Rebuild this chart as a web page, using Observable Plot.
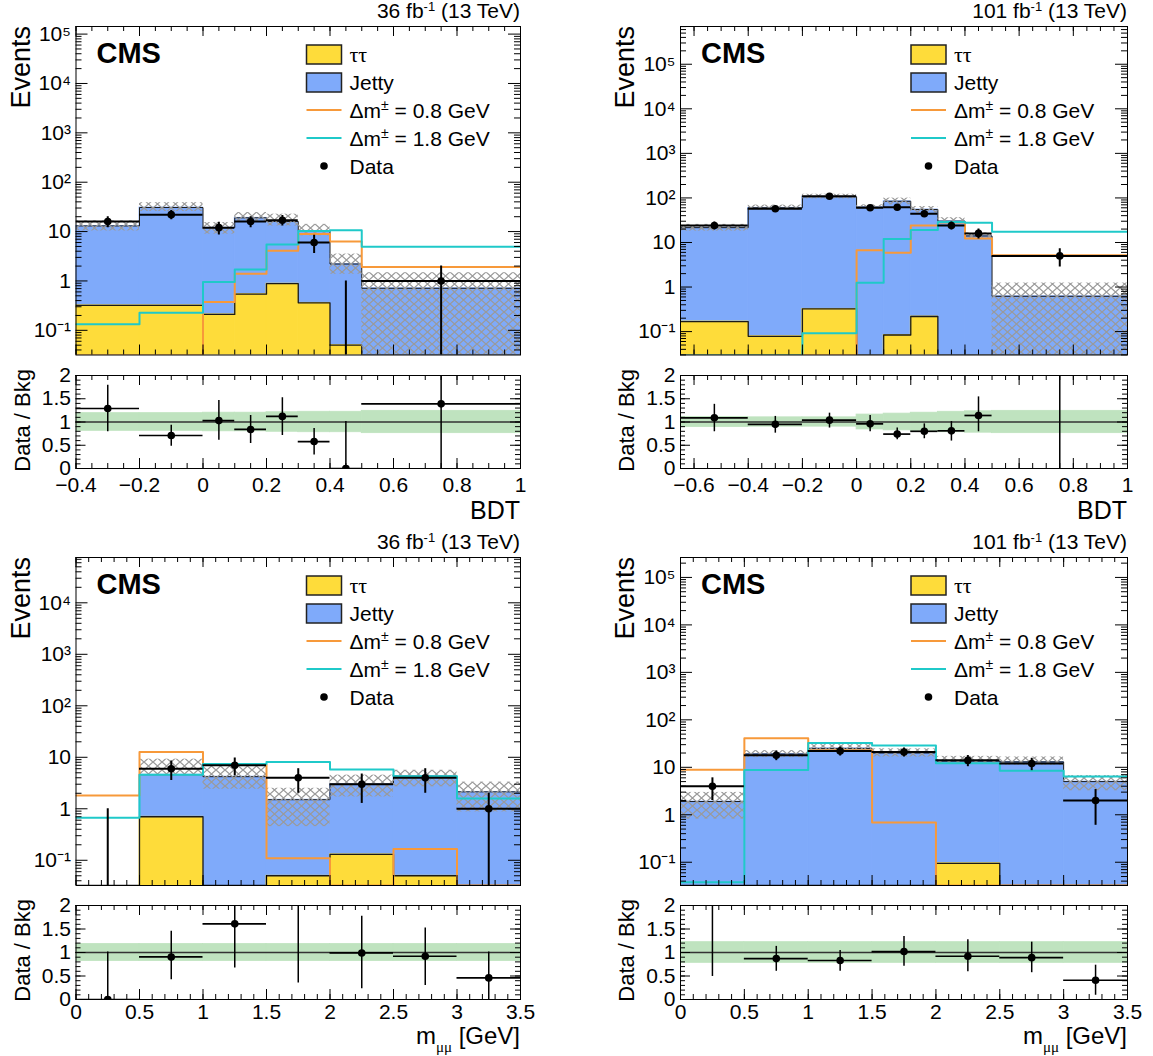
<!DOCTYPE html>
<html>
<head>
<meta charset="utf-8">
<script src="https://cdn.jsdelivr.net/npm/d3@7"></script>
<script src="https://cdn.jsdelivr.net/npm/@observablehq/plot@0.6"></script>
<style>
  html, body { margin: 0; padding: 0; background: #fff; }
  #root { position: relative; width: 1153px; height: 1056px; overflow: hidden; background: #fff;
          font-family: "Liberation Sans", Arial, Helvetica, sans-serif; color: #000; }
</style>
</head>
<body>
<svg width="0" height="0" style="position:absolute;left:0;top:0">
  <defs>
    <pattern id="xhatch" patternUnits="userSpaceOnUse" width="9" height="8">
      <path d="M0,0L9,8M9,0L0,8" stroke="#9a9a9a" stroke-width="1.3" fill="none"/>
    </pattern>
  </defs>
</svg>
<div id="root"></div>
<script>
// ---------------- DATA ----------------
// Panel A: BDT, 36 fb-1
const bdt36Edges    = [-0.4, -0.2, 0, 0.1, 0.2, 0.3, 0.4, 0.5, 1.0];
const bdt36TauTau   = [0.32, 0.32, 0.21, 0.54, 0.88, 0.36, 0.05, 0];
const bdt36Stack    = [13, 30.7, 12, 19, 16, 10.3, 2.2, 0.71];
const bdt36UncLo    = [10.3, 25.5, 8.9, 16, 13, 8.2, 1.37, 0];
const bdt36UncHi    = [16.5, 38.5, 15.2, 24.3, 22.5, 14, 3.5, 1.47];
const bdt36Sig08    = [0, 0, 0.375, 1.4, 4.1, 8.9, 6.3, 1.92];
const bdt36Sig18    = [0.132, 0.228, 0.95, 1.7, 5.5, 10.3, 10.7, 4.9];
const bdt36Data     = [16, 22, 12, 16, 17, 6, 0, 1];
const bdt36DataErr  = [4, 4.7, 3.5, 4, 4.1, 2.4, 1, 1];
const bdt36Ratio    = [1.29, 0.71, 1.03, 0.84, 1.12, 0.58, 0, 1.39];
const bdt36RatioLo  = [0.79, 0.48, 0.61, 0.54, 0.71, 0.29, 0, 0];
const bdt36RatioHi  = [1.79, 0.93, 1.46, 1.14, 1.52, 0.86, 1.01, 2.6];
const bdt36Band     = [0.19, 0.19, 0.2, 0.2, 0.21, 0.22, 0.22, 0.24];

// Panel B: BDT, 101 fb-1
const bdt101Edges   = [-0.65, -0.4, -0.2, 0, 0.1, 0.2, 0.3, 0.4, 0.5, 1.0];
const bdt101TauTau  = [0.168, 0.0785, 0.324, 0, 0.084, 0.218, 0, 0, 0];
const bdt101Stack   = [21.5, 60, 106, 62, 84, 55, 30, 14, 0.62];
const bdt101UncLo   = [18, 53, 95, 55, 70, 46, 27, 12, 0];
const bdt101UncHi   = [25.5, 69, 121, 70, 99, 64, 36, 16.5, 1.23];
const bdt101Sig08   = [0, 0, 0, 6.7, 5.9, 24, 28, 12.3, 5.2];
const bdt101Sig18   = [0, 0, 0.092, 1.25, 11.9, 19, 29, 27.8, 17.4];
const bdt101Data    = [24, 57, 109, 60, 62, 44, 24, 16, 5];
const bdt101DataErr = [4.9, 7.5, 10.4, 7.7, 7.9, 6.6, 4.9, 4, 2.2];
const bdt101Ratio   = [1.09, 0.95, 1.04, 0.96, 0.74, 0.8, 0.81, 1.14, 8.1];
const bdt101RatioLo = [0.79, 0.76, 0.87, 0.79, 0.62, 0.64, 0.59, 0.79, 0];
const bdt101RatioHi = [1.38, 1.12, 1.19, 1.14, 0.87, 0.96, 1.01, 1.54, 12];
const bdt101Band    = [0.11, 0.1, 0.1, 0.16, 0.18, 0.2, 0.22, 0.23, 0.24];

// Panel C: m_mumu, 36 fb-1
const mm36Edges     = [0, 0.5, 1, 1.5, 2, 2.5, 3, 3.5];
const mm36TauTau    = [0, 0.7, 0, 0.05, 0.13, 0.05, 0];
const mm36Stack     = [0, 4.6, 4.2, 1.5, 3.0, 4.3, 2.13];
const mm36UncLo     = [0, 4.6, 2.4, 0.45, 1.7, 2.67, 0.87];
const mm36UncHi     = [0, 9.2, 6.9, 2.5, 4.5, 5.6, 3.3];
const mm36Sig08     = [1.81, 12.7, 7.2, 0.109, 0, 0.166, 0];
const mm36Sig18     = [0.67, 4.6, 7.4, 8.1, 5.8, 4.3, 1.58];
const mm36Data      = [0, 6, 7, 4, 3, 4, 1];
const mm36DataErr   = [1, 2.45, 2.65, 2, 1.73, 2, 1];
const mm36Ratio     = [0, 0.905, 1.61, 2.7, 0.99, 0.92, 0.46];
const mm36RatioLo   = [0, 0.42, 0.67, 0.35, 0.23, 0.3, 0];
const mm36RatioHi   = [1.01, 1.45, 2.6, 5, 1.77, 1.52, 1.01];
const mm36Band      = [0.18, 0.18, 0.18, 0.18, 0.18, 0.18, 0.18];

// Panel D: m_mumu, 101 fb-1
const mm101Edges    = [0, 0.5, 1, 1.5, 2, 2.5, 3, 3.5];
const mm101TauTau   = [0, 0, 0, 0, 0.095, 0, 0];
const mm101Stack    = [1.9, 19, 25, 20, 13.5, 13, 5];
const mm101UncLo    = [0.81, 16, 22, 16.5, 11.5, 11, 3.2];
const mm101UncHi    = [2.96, 22.5, 30, 24.5, 17, 16.5, 6.7];
const mm101Sig08    = [8.9, 41, 23, 0.69, 0, 0, 0];
const mm101Sig18    = [0.038, 8.8, 32.7, 28.7, 12.2, 8.5, 6.4];
const mm101Data     = [4, 18, 22, 21, 14, 12, 2];
const mm101DataErr  = [2, 4.2, 4.7, 4.6, 3.7, 3.5, 1.4];
const mm101Ratio    = [2.2, 0.87, 0.83, 1.02, 0.92, 0.89, 0.41];
const mm101RatioLo  = [0.49, 0.6, 0.6, 0.71, 0.59, 0.57, 0.09];
const mm101RatioHi  = [4, 1.13, 1.04, 1.34, 1.27, 1.22, 0.73];
const mm101Band     = [0.22, 0.22, 0.22, 0.22, 0.22, 0.22, 0.22];

// Tick values and labels
const logTicks5     = [0.1, 1, 10, 100, 1000, 10000, 100000];
const logLabels5    = ["10\u207B\u00B9", "1", "10", "10\u00B2", "10\u00B3", "10\u2074", "10\u2075"];
const logTicks4     = [0.1, 1, 10, 100, 1000, 10000];
const logLabels4    = ["10\u207B\u00B9", "1", "10", "10\u00B2", "10\u00B3", "10\u2074"];
const ratioTicks    = [0, 0.5, 1, 1.5, 2];
const bdtTicksA     = [-0.4, -0.2, 0, 0.2, 0.4, 0.6, 0.8, 1];
const bdtTicksB     = [-0.6, -0.4, -0.2, 0, 0.2, 0.4, 0.6, 0.8, 1];
const mmTicks       = [0, 0.5, 1, 1.5, 2, 2.5, 3, 3.5];

const legendLabels  = ["\u03C4\u03C4", "Jetty", "\u0394m\u00B1 = 0.8 GeV", "\u0394m\u00B1 = 1.8 GeV", "Data"];

// ---------------- STYLE ----------------
const YELLOW = "#fedc3a", BLUE = "#7faafa", ORANGE = "#f7993a", CYAN = "#1fc9c9", GREEN = "#bfe3bf";
const FONT = "'Liberation Sans', Arial, Helvetica, sans-serif";

const panels = [
  {edges: bdt36Edges, tt: bdt36TauTau, stack: bdt36Stack, uncLo: bdt36UncLo, uncHi: bdt36UncHi,
   s08: bdt36Sig08, s18: bdt36Sig18, data: bdt36Data, err: bdt36DataErr,
   ratio: bdt36Ratio, rLo: bdt36RatioLo, rHi: bdt36RatioHi, band: bdt36Band,
   xDomain: [-0.4, 1], yDomain: [Math.pow(10, -1.5), Math.pow(10, 5.154)],
   xTicks: bdtTicksA, xMinor: 0.05, yTicks: logTicks5, yLabels: logLabels5, lumi: "36", xTitle: "BDT"},
  {edges: bdt101Edges, tt: bdt101TauTau, stack: bdt101Stack, uncLo: bdt101UncLo, uncHi: bdt101UncHi,
   s08: bdt101Sig08, s18: bdt101Sig18, data: bdt101Data, err: bdt101DataErr,
   ratio: bdt101Ratio, rLo: bdt101RatioLo, rHi: bdt101RatioHi, band: bdt101Band,
   xDomain: [-0.65, 1], yDomain: [Math.pow(10, -1.525), Math.pow(10, 5.847)],
   xTicks: bdtTicksB, xMinor: 0.05, yTicks: logTicks5, yLabels: logLabels5, lumi: "101", xTitle: "BDT"},
  {edges: mm36Edges, tt: mm36TauTau, stack: mm36Stack, uncLo: mm36UncLo, uncHi: mm36UncHi,
   s08: mm36Sig08, s18: mm36Sig18, data: mm36Data, err: mm36DataErr,
   ratio: mm36Ratio, rLo: mm36RatioLo, rHi: mm36RatioHi, band: mm36Band,
   xDomain: [0, 3.5], yDomain: [Math.pow(10, -1.49), Math.pow(10, 4.88)],
   xTicks: mmTicks, xMinor: 0.1, yTicks: logTicks4, yLabels: logLabels4, lumi: "36", xTitle: "mmm"},
  {edges: mm101Edges, tt: mm101TauTau, stack: mm101Stack, uncLo: mm101UncLo, uncHi: mm101UncHi,
   s08: mm101Sig08, s18: mm101Sig18, data: mm101Data, err: mm101DataErr,
   ratio: mm101Ratio, rLo: mm101RatioLo, rHi: mm101RatioHi, band: mm101Band,
   xDomain: [0, 3.5], yDomain: [Math.pow(10, -1.49), Math.pow(10, 5.42)],
   xTicks: mmTicks, xMinor: 0.1, yTicks: logTicks5, yLabels: logLabels5, lumi: "101", xTitle: "mmm"}
];

// Layout (pixel geometry of each panel's frames)
const layouts = [
  {colLeft: 0,   colW: 560, FL: 75.5, FR: 520,  mainTop: 0,   mainH: 360, FT: 26,  FB: 354.5, ratTop: 362, ratH: 168, RT: 375, RB: 468, titleY: 519, xPad: 9},
  {colLeft: 580, colW: 573, FL: 680,  FR: 1127, mainTop: 0,   mainH: 360, FT: 26,  FB: 354.5, ratTop: 362, ratH: 168, RT: 375, RB: 468, titleY: 519, xPad: 9},
  {colLeft: 0,   colW: 560, FL: 75.5, FR: 520,  mainTop: 530, mainH: 360, FT: 557, FB: 885,   ratTop: 890, ratH: 166, RT: 905, RB: 999, titleY: 1044, xPad: 5},
  {colLeft: 580, colW: 573, FL: 680,  FR: 1127, mainTop: 530, mainH: 360, FT: 557, FB: 885,   ratTop: 890, ratH: 166, RT: 905, RB: 999, titleY: 1044, xPad: 5}
];

// ---------------- HELPERS ----------------
function logMinor(y0, y1) {
  const out = [];
  for (let e = Math.floor(Math.log10(y0)); e <= Math.ceil(Math.log10(y1)); e++)
    for (let k = 2; k <= 9; k++) { const v = k * Math.pow(10, e); if (v >= y0 && v <= y1) out.push(v); }
  return out;
}
function linMinor(a, b, step) {
  return d3.range(Math.ceil(a / step - 1e-6), Math.floor(b / step + 1e-6) + 1).map(k => +(k * step).toFixed(6));
}
function tickMarks(xMaj, xMin, yMaj, yMin, fw, fh, yMajLen, yMinLen, xMajLen, xMinLen) {
  const s = {stroke: "#000", strokeWidth: 1};
  return [
    Plot.tickY(yMaj, {y: d => d, insetRight: fw - yMajLen, ...s}),
    Plot.tickY(yMaj, {y: d => d, insetLeft: fw - yMajLen, ...s}),
    Plot.tickY(yMin, {y: d => d, insetRight: fw - yMinLen, ...s}),
    Plot.tickY(yMin, {y: d => d, insetLeft: fw - yMinLen, ...s}),
    Plot.tickX(xMaj, {x: d => d, insetTop: fh - xMajLen, ...s}),
    Plot.tickX(xMaj, {x: d => d, insetBottom: fh - xMajLen, ...s}),
    Plot.tickX(xMin, {x: d => d, insetTop: fh - xMinLen, ...s}),
    Plot.tickX(xMin, {x: d => d, insetBottom: fh - xMinLen, ...s})
  ];
}
const plotStyle = {fontFamily: FONT, fontSize: "21px", color: "#000", background: "transparent", overflow: "visible"};

function buildMain(p, L) {
  const W = L.colW, H = L.mainH;
  const ml = L.FL - L.colLeft, mr = L.colLeft + W - L.FR, mt = L.FT - L.mainTop, mb = L.mainTop + H - L.FB;
  const fw = L.FR - L.FL, fh = L.FB - L.FT;
  const [y0, y1] = p.yDomain;
  const fl = v => Math.max(v, y0);
  const bins = p.data.map((d, i) => ({
    x1: p.edges[i], x2: p.edges[i + 1], xc: (p.edges[i] + p.edges[i + 1]) / 2,
    tt: p.tt[i], top: p.stack[i], lo: p.uncLo[i], hi: p.uncHi[i],
    s08: p.s08[i], s18: p.s18[i], d, e: p.err[i]
  }));
  const steps = k => bins.flatMap(b => [{x: b.x1, y: fl(b[k])}, {x: b.x2, y: fl(b[k])}]);
  const xMin = linMinor(p.xDomain[0], p.xDomain[1], p.xMinor);
  return Plot.plot({
    width: W, height: H, marginLeft: ml, marginRight: mr, marginTop: mt, marginBottom: mb,
    x: {domain: p.xDomain, axis: null},
    y: {type: "log", domain: p.yDomain, axis: null},
    style: plotStyle,
    marks: [
      Plot.rect(bins.filter(b => b.top > 0), {x1: "x1", x2: "x2", y1: b => fl(b.tt), y2: "top", fill: BLUE, stroke: BLUE, strokeWidth: 0.8, clip: true}),
      Plot.rect(bins.filter(b => b.tt > 0), {x1: "x1", x2: "x2", y1: () => y0, y2: "tt", fill: YELLOW, stroke: YELLOW, strokeWidth: 0.8, clip: true}),
      Plot.line(steps("top"), {x: "x", y: "y", stroke: "#1a1a1a", strokeWidth: 1, clip: true}),
      Plot.line(steps("tt"), {x: "x", y: "y", stroke: "#1a1a1a", strokeWidth: 1.3, clip: true}),
      Plot.rect(bins.filter(b => b.hi > 0), {x1: "x1", x2: "x2", y1: b => fl(b.lo), y2: "hi", fill: "url(#xhatch)", clip: true}),
      Plot.line(steps("s08"), {x: "x", y: "y", stroke: ORANGE, strokeWidth: 2, clip: true}),
      Plot.line(steps("s18"), {x: "x", y: "y", stroke: CYAN, strokeWidth: 2, clip: true}),
      Plot.ruleY(bins.filter(b => b.d > 0), {y: "d", x1: "x1", x2: "x2", stroke: "#000", strokeWidth: 2, clip: true}),
      Plot.ruleX(bins, {x: "xc", y1: b => fl(b.d - b.e), y2: b => b.d + b.e, stroke: "#000", strokeWidth: 2, clip: true}),
      Plot.dot(bins.filter(b => b.d > 0), {x: "xc", y: "d", r: 3.8, fill: "#000", stroke: "none", clip: true}),
      Plot.frame({stroke: "#000", strokeWidth: 1}),
      ...tickMarks(p.xTicks, xMin, p.yTicks, logMinor(y0, y1), fw, fh, 12, 6, 10, 5),
      Plot.axisY({ticks: p.yTicks, tickFormat: v => p.yLabels[p.yTicks.indexOf(v)], tickSize: 0, tickPadding: 5, fontSize: 21, label: null})
    ]
  });
}

function buildRatio(p, L) {
  const W = L.colW, H = L.ratH;
  const ml = L.FL - L.colLeft, mr = L.colLeft + W - L.FR, mt = L.RT - L.ratTop, mb = L.ratTop + H - L.RB;
  const fw = L.FR - L.FL, fh = L.RB - L.RT;
  const rb = p.ratio.map((r, i) => ({
    x1: p.edges[i], x2: p.edges[i + 1], xc: (p.edges[i] + p.edges[i + 1]) / 2,
    r, lo: p.rLo[i], hi: p.rHi[i], h: p.band[i]
  }));
  const xMin = linMinor(p.xDomain[0], p.xDomain[1], p.xMinor);
  const fmt = d3.format("~g");
  return Plot.plot({
    width: W, height: H, marginLeft: ml, marginRight: mr, marginTop: mt, marginBottom: mb,
    x: {domain: p.xDomain, axis: null},
    y: {domain: [0, 2], axis: null},
    style: plotStyle,
    marks: [
      Plot.rect(rb, {x1: "x1", x2: "x2", y1: b => 1 - b.h, y2: b => 1 + b.h, fill: GREEN, stroke: GREEN, strokeWidth: 0.8, clip: true}),
      Plot.ruleY([1], {stroke: "#333", strokeWidth: 1.5}),
      Plot.ruleY(rb, {y: "r", x1: "x1", x2: "x2", stroke: "#000", strokeWidth: 1.7, clip: true}),
      Plot.ruleX(rb, {x: "xc", y1: "lo", y2: "hi", stroke: "#000", strokeWidth: 1.5, clip: true}),
      Plot.dot(rb, {x: "xc", y: "r", r: 3.8, fill: "#000", stroke: "none", clip: true}),
      Plot.frame({stroke: "#000", strokeWidth: 1}),
      ...tickMarks(p.xTicks, xMin, ratioTicks, linMinor(0, 2, 0.1), fw, fh, 10, 5, 10, 5),
      Plot.axisY({ticks: ratioTicks, tickFormat: fmt, tickSize: 0, tickPadding: 5, fontSize: 21, label: null}),
      Plot.axisX({ticks: p.xTicks, tickFormat: fmt, tickSize: 0, tickPadding: L.xPad, fontSize: 21, label: null})
    ]
  });
}

// ---------------- RENDER ----------------
const root = document.getElementById("root");
function place(el, left, top) {
  el.style.position = "absolute";
  el.style.left = left + "px";
  el.style.top = top + "px";
  root.appendChild(el);
}

let ov = `<svg xmlns="http://www.w3.org/2000/svg" width="1153" height="1056" style="position:absolute;left:0;top:0;pointer-events:none;font-family:${FONT.replace(/"/g, "'")}">`;

panels.forEach((p, i) => {
  const L = layouts[i];
  place(buildMain(p, L), L.colLeft, L.mainTop);
  place(buildRatio(p, L), L.colLeft, L.ratTop);

  // lumi label
  ov += `<text x="${L.FR}" y="${L.FT - 8}" text-anchor="end" font-size="21">${p.lumi} fb<tspan baseline-shift="super" font-size="13">-1</tspan> (13 TeV)</text>`;
  // CMS
  ov += `<text x="${L.FL + 21}" y="${L.FT + 37}" font-size="29" font-weight="bold">CMS</text>`;
  // legend
  const lx = L.FL + 231;
  const rows = [28.5, 56.5, 84, 112, 140].map(v => L.FT + v);
  ov += `<rect x="${lx}" y="${L.FT + 19}" width="35" height="19" fill="${YELLOW}" stroke="#222" stroke-width="1.5"/>`;
  ov += `<rect x="${lx}" y="${L.FT + 47}" width="35" height="19" fill="${BLUE}" stroke="#222" stroke-width="1.5"/>`;
  ov += `<line x1="${lx}" x2="${lx + 35}" y1="${rows[2]}" y2="${rows[2]}" stroke="${ORANGE}" stroke-width="2"/>`;
  ov += `<line x1="${lx}" x2="${lx + 35}" y1="${rows[3]}" y2="${rows[3]}" stroke="${CYAN}" stroke-width="2"/>`;
  ov += `<circle cx="${lx + 17.5}" cy="${rows[4]}" r="3.8" fill="#000"/>`;
  const tx = lx + 43;
  ov += `<text x="${tx}" y="${rows[0] + 7.5}" font-size="22" font-family="'Liberation Serif', 'DejaVu Serif', serif">${legendLabels[0]}</text>`;
  ov += `<text x="${tx}" y="${rows[1] + 7.5}" font-size="21">${legendLabels[1]}</text>`;
  ov += `<text x="${tx}" y="${rows[2] + 7.5}" font-size="21">\u0394m<tspan baseline-shift="super" font-size="14">\u00B1</tspan> = 0.8 GeV</text>`;
  ov += `<text x="${tx}" y="${rows[3] + 7.5}" font-size="21">\u0394m<tspan baseline-shift="super" font-size="14">\u00B1</tspan> = 1.8 GeV</text>`;
  ov += `<text x="${tx}" y="${rows[4] + 7.5}" font-size="21">${legendLabels[4]}</text>`;
  // axis titles
  ov += `<text transform="translate(${L.FL - 46},${L.FT}) rotate(-90)" text-anchor="end" font-size="27">Events</text>`;
  ov += `<text transform="translate(${L.FL - 46},${L.RT - 6}) rotate(-90)" text-anchor="end" font-size="22">Data / Bkg</text>`;
  if (p.xTitle === "BDT") {
    ov += `<text x="${L.FR}" y="${L.titleY}" text-anchor="end" font-size="25">BDT</text>`;
  } else {
    ov += `<text x="${L.FR}" y="${L.titleY}" text-anchor="end" font-size="24">m<tspan baseline-shift="sub" font-size="15" font-family="'Liberation Serif', serif">\u03BC\u03BC</tspan> [GeV]</text>`;
  }
});
ov += `</svg>`;
root.insertAdjacentHTML("beforeend", ov);
</script>
</body>
</html>
